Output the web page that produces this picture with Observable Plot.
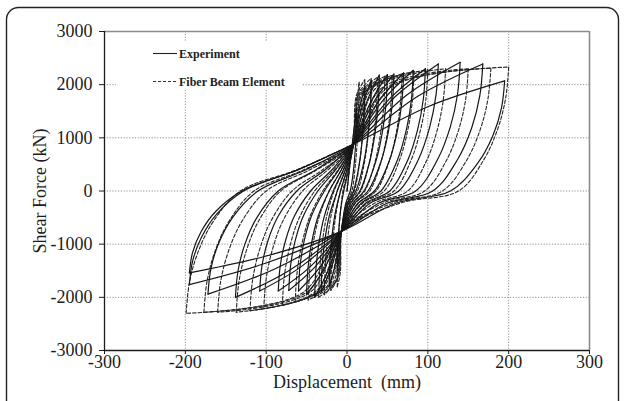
<!DOCTYPE html>
<html><head><meta charset="utf-8">
<script src="https://cdn.jsdelivr.net/npm/d3@7"></script>
<script src="https://cdn.jsdelivr.net/npm/@observablehq/plot@0.6"></script>
<style>
body{margin:0;background:#fff}
#chart{position:relative;width:624px;height:401px;overflow:hidden;background:#fff}
</style>
</head><body><div id="chart"></div>
<script>
// Axis ticks
const xTicks = [-300, -200, -100, 0, 100, 200, 300];
const yTicks = [-3000, -2000, -1000, 0, 1000, 2000, 3000];
const xGrid = [-200, -100, 0, 100, 200];
const yGrid = [-2000, -1000, 0, 1000, 2000];
const xLabel = "Displacement  (mm)";
const yLabel = "Shear Force (kN)";
const legendLabels = ["Experiment", "Fiber Beam Element"];

// Experiment: branches from negative peak to positive peak [displacement mm, force kN]
const experimentUp = [
 [[0,0],[5,700],[12,1550]],
 [[-12,-1500],[-11.5,-1125],[-10.2,-750],[-8,-375],[-4,0],[2,400],[8,880],[15,1520],[22,1950]],
 [[-22,-1800],[-21.2,-1350],[-18.9,-900],[-15,-450],[-8,0],[0,400],[8,880],[19,1600],[30,2080]],
 [[-32,-1900],[-30.8,-1425],[-27.6,-950],[-22,-475],[-12,0],[-2,400],[8,880],[24,1660],[40,2180]],
 [[-40,-2000],[-38.6,-1500],[-34.9,-1000],[-28.5,-500],[-17,0],[-4.5,400],[8,880],[29,1666],[50,2190]],
 [[-50,-1950],[-48.3,-1463],[-43.8,-975],[-36,-488],[-22,0],[-7,400],[8,880],[33,1672],[58,2200]],
 [[-60,-1880],[-58.1,-1410],[-53,-940],[-44,-470],[-28,0],[-10,400],[8,880],[39,1684],[70,2220]],
 [[-72,-1870],[-69.8,-1403],[-64.1,-935],[-54,-468],[-36,0],[-14,400],[8,880],[45,1714],[82,2270]],
 [[-85,-1880],[-82.6,-1410],[-76.2,-940],[-65,-470],[-45,0],[-18.5,400],[8,880],[52.5,1732],[97,2300]],
 [[-108,-1880],[-105.2,-1410],[-97.9,-940],[-85,-470],[-62,0],[-27,400],[8,880],[60.5,1786],[113,2390]],
 [[-138,-2000],[-134.8,-1500],[-126.3,-1000],[-111.5,-500],[-85,0],[-38.5,400],[8,880],[74,1804],[140,2420]],
 [[-172,-1940],[-168.3,-1455],[-158.4,-970],[-141,-485],[-110,0],[-51,400],[8,880],[88,1786],[168,2390]],
 [[-195,-1760],[-191,-1320],[-180.3,-880],[-161.5,-440],[-128,0],[-60,400],[8,880],[101.5,1594],[195,2070]],
 [[-195,-1540],[-191,-1155],[-180.7,-770],[-162.5,-385],[-130,0],[-61,400],[8,880]]
];
// Experiment: branches from positive peak to negative peak
const experimentDown = [
 [[12,1550],[11.5,1160],[10.2,775],[8,390],[4,0],[-1.5,-230],[-7,-760],[-9.5,-1204],[-12,-1500]],
 [[22,1950],[21.2,1460],[18.9,975],[15,490],[8,0],[0.5,-230],[-7,-760],[-14.5,-1384],[-22,-1800]],
 [[30,2080],[28.9,1560],[25.8,1040],[20.5,520],[11,0],[2,-230],[-7,-760],[-19.5,-1444],[-32,-1900]],
 [[40,2180],[38.6,1635],[34.7,1090],[28,545],[16,0],[4.5,-230],[-7,-760],[-23.5,-1504],[-40,-2000]],
 [[50,2190],[48.3,1643],[43.6,1095],[35.5,548],[21,0],[7,-230],[-7,-760],[-28.5,-1474],[-50,-1950]],
 [[58,2200],[56.1,1650],[51,1100],[42,550],[26,0],[9.5,-230],[-7,-760],[-33.5,-1432],[-60,-1880]],
 [[70,2220],[67.8,1665],[62.1,1110],[52,555],[34,0],[13.5,-230],[-7,-760],[-39.5,-1426],[-72,-1870]],
 [[82,2270],[79.6,1703],[73.2,1135],[62,568],[42,0],[17.5,-230],[-7,-760],[-46,-1432],[-85,-1880]],
 [[97,2300],[94.4,1725],[87.3,1150],[75,575],[53,0],[23,-230],[-7,-760],[-57.5,-1432],[-108,-1880]],
 [[113,2390],[110,1793],[102.2,1195],[88.5,598],[64,0],[28.5,-230],[-7,-760],[-72.5,-1504],[-138,-2000]],
 [[140,2420],[136.7,1815],[127.9,1210],[112.5,605],[85,0],[39,-230],[-7,-760],[-89.5,-1468],[-172,-1940]],
 [[168,2390],[164.3,1793],[154.4,1195],[137,598],[106,0],[49.5,-230],[-7,-760],[-101,-1360],[-195,-1760]],
 [[195,2070],[191,1553],[180.3,1035],[161.5,518],[128,0],[60.5,-230],[-7,-760],[-101,-1228],[-195,-1540]]
];
// Fiber Beam Element model
const fiberUp = [
 [[0,0],[6,800],[15,2050]],
 [[-12,-1800],[-11.6,-1350],[-10.5,-900],[-8.5,-450],[-5,0],[1.5,400],[8,880],[11.5,1788],[22,2090]],
 [[-20,-1870],[-19.3,-1403],[-17.4,-935],[-14,-468],[-8,0],[0,400],[8,880],[13.5,1810],[30,2120]],
 [[-28,-1950],[-27,-1463],[-24.5,-975],[-20,-488],[-12,0],[-2,400],[8,880],[15.5,1825],[38,2140]],
 [[-35,-2000],[-33.9,-1500],[-30.8,-1000],[-25.5,-500],[-16,0],[-4,400],[8,880],[17.8,1840],[47,2160]],
 [[-48,-2050],[-46.4,-1538],[-42.3,-1025],[-35,-513],[-22,0],[-7,400],[8,880],[20,1851],[56,2175]],
 [[-64,-2090],[-62,-1568],[-56.5,-1045],[-47,-523],[-30,0],[-11,400],[8,880],[23,1870],[68,2200]],
 [[-80,-2150],[-77.6,-1613],[-71.2,-1075],[-60,-538],[-40,0],[-16,400],[8,880],[26.8,1908],[83,2250]],
 [[-103,-2215],[-100.1,-1661],[-92.4,-1108],[-79,-554],[-55,0],[-23.5,400],[8,880],[31,1930],[100,2280]],
 [[-120,-2250],[-116.9,-1688],[-108.6,-1125],[-94,-563],[-68,0],[-30,400],[8,880],[36.5,1945],[122,2300]],
 [[-137,-2280],[-133.7,-1710],[-124.9,-1140],[-109.5,-570],[-82,0],[-37,400],[8,880],[43.5,1945],[150,2300]],
 [[-160,-2280],[-156.4,-1710],[-146.8,-1140],[-130,-570],[-100,0],[-46,400],[8,880],[50.5,1953],[178,2310]],
 [[-177,-2280],[-173.3,-1710],[-163.4,-1140],[-146,-570],[-115,0],[-53.5,400],[8,880],[56,1968],[200,2330]],
 [[-199,-2300],[-195,-1725],[-184.3,-1150],[-165.5,-575],[-132,0],[-62,400],[8,880]]
];
const fiberDown = [
 [[15,2050],[14.5,1538],[13,1025],[10.5,513],[6,0],[-0.5,-230],[-7,-760],[-8.3,-1540],[-12,-1800]],
 [[22,2090],[21.2,1568],[19.1,1045],[15.5,523],[9,0],[1,-230],[-7,-760],[-10.3,-1593],[-20,-1870]],
 [[30,2120],[29,1590],[26.3,1060],[21.5,530],[13,0],[3,-230],[-7,-760],[-12.3,-1653],[-28,-1950]],
 [[38,2140],[36.7,1605],[33.4,1070],[27.5,535],[17,0],[5,-230],[-7,-760],[-14,-1690],[-35,-2000]],
 [[47,2160],[45.5,1620],[41.5,1080],[34.5,540],[22,0],[7.5,-230],[-7,-760],[-17.3,-1728],[-48,-2050]],
 [[56,2175],[54.3,1631],[49.8,1088],[42,544],[28,0],[10.5,-230],[-7,-760],[-21.3,-1758],[-64,-2090]],
 [[68,2200],[66.1,1650],[61,1100],[52,550],[36,0],[14.5,-230],[-7,-760],[-25.3,-1803],[-80,-2150]],
 [[83,2250],[80.8,1688],[74.9,1125],[64.5,563],[46,0],[19.5,-230],[-7,-760],[-31,-1851],[-103,-2215]],
 [[100,2280],[97.5,1710],[90.8,1140],[79,570],[58,0],[25.5,-230],[-7,-760],[-35.3,-1878],[-120,-2250]],
 [[122,2300],[119.2,1725],[111.7,1150],[98.5,575],[75,0],[34,-230],[-7,-760],[-39.5,-1900],[-137,-2280]],
 [[150,2300],[146.8,1725],[138.1,1150],[123,575],[96,0],[44.5,-230],[-7,-760],[-45.3,-1900],[-160,-2280]],
 [[178,2310],[174.4,1733],[164.8,1155],[148,578],[118,0],[55.5,-230],[-7,-760],[-49.5,-1900],[-177,-2280]],
 [[200,2330],[196.3,1748],[186.4,1165],[169,583],[138,0],[65.5,-230],[-7,-760],[-55,-1915],[-199,-2300]]
];

function toRows(branches, prefix) {
  return branches.flatMap((b, i) => b.map(([d, F]) => ({branch: prefix + i, d, F})));
}
const expRows = [...toRows(experimentUp, "eu"), ...toRows(experimentDown, "ed")];
const fibRows = [...toRows(fiberUp, "fu"), ...toRows(fiberDown, "fd")];
const fmt = d => String(d);
const serif = '"Liberation Serif", "Times New Roman", serif';

const svg = Plot.plot({
  width: 624, height: 401,
  marginLeft: 104, marginRight: 35, marginTop: 31, marginBottom: 51,
  x: {domain: [-300, 300]},
  y: {domain: [-3000, 3000]},
  style: {fontFamily: serif, fontSize: "18px", color: "#1c1c1c", background: "#fff", overflow: "visible"},
  marks: [
    Plot.ruleX(xGrid, {stroke: "#8f8f8f", strokeWidth: 1, strokeDasharray: "1.2,1.6"}),
    Plot.ruleY(yGrid, {stroke: "#8f8f8f", strokeWidth: 1, strokeDasharray: "1.2,1.6"}),
    Plot.ruleY([3000], {stroke: "#8c8c8c", strokeWidth: 1.6}),
    Plot.ruleX([300], {stroke: "#8c8c8c", strokeWidth: 1.6}),
    Plot.line(fibRows, {x: "d", y: "F", z: "branch", curve: "catmull-rom", stroke: "#262626", strokeWidth: 1.1, strokeDasharray: "3.5,2"}),
    Plot.line(expRows, {x: "d", y: "F", z: "branch", curve: "catmull-rom", stroke: "#161616", strokeWidth: 1.2}),
    Plot.ruleX([-300], {stroke: "#1c1c1c", strokeWidth: 1.3}),
    Plot.ruleY([-3000], {stroke: "#1c1c1c", strokeWidth: 1.3}),
    Plot.axisX({ticks: xTicks, tickFormat: fmt, tickSize: 4, tickPadding: 1, label: null}),
    Plot.axisY({ticks: yTicks, tickFormat: fmt, tickSize: 5, tickPadding: 7, label: null}),
    Plot.text([xLabel], {frameAnchor: "bottom", textAnchor: "middle", dy: 37, fontSize: 18, text: d => d}),
    Plot.text([yLabel], {frameAnchor: "left", textAnchor: "middle", dx: -64, rotate: -90, fontSize: 18, text: d => d})
  ]
});
document.getElementById("chart").appendChild(svg);

// legend and outer frame
const s = d3.select(svg);
s.append("rect").attr("x", 116).attr("y", 42).attr("width", 186).attr("height", 48).attr("fill", "#fff");
const g = s.append("g").attr("font-family", serif).attr("text-anchor", "start")
  .attr("font-size", 12).attr("font-weight", "bold").attr("fill", "#222");
g.append("line").attr("x1", 153).attr("x2", 177).attr("y1", 53.5).attr("y2", 53.5).attr("stroke", "#222").attr("stroke-width", 1.1);
g.append("text").attr("x", 179).attr("y", 57.5).attr("text-anchor", "start").text(legendLabels[0]);
g.append("line").attr("x1", 153).attr("x2", 177).attr("y1", 81.5).attr("y2", 81.5).attr("stroke", "#333").attr("stroke-width", 1).attr("stroke-dasharray", "3,2");
g.append("text").attr("x", 179).attr("y", 85.5).attr("text-anchor", "start").text(legendLabels[1]);
s.append("rect").attr("x", 6.5).attr("y", 7.5).attr("width", 612).attr("height", 430).attr("rx", 12)
  .attr("fill", "none").attr("stroke", "#222").attr("stroke-width", 1.4);
</script></body></html>
